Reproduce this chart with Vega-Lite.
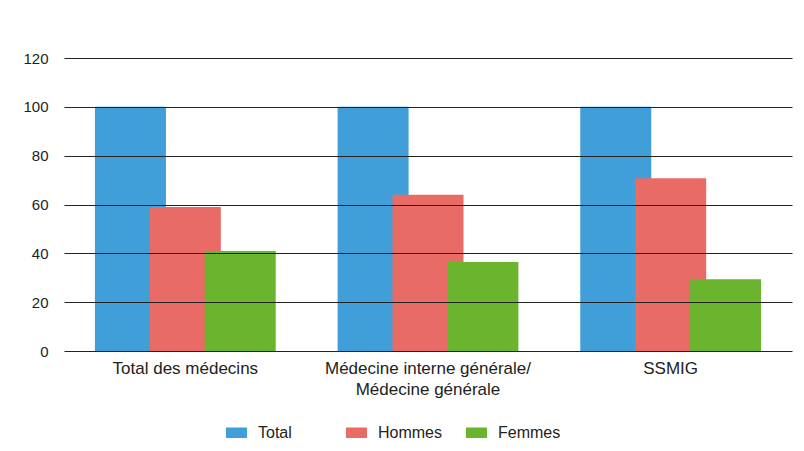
{
  "$schema": "https://vega.github.io/schema/vega-lite/v6.json",
  "autosize": {"type": "none"},
  "width": 728,
  "height": 293,
  "padding": {"left": 64, "top": 58, "right": 12, "bottom": 100},
  "background": "white",
  "data": {
    "values": [
      {"cat": "Total des médecins", "serie": "Total", "val": 100},
      {"cat": "Total des médecins", "serie": "Hommes", "val": 59},
      {"cat": "Total des médecins", "serie": "Femmes", "val": 41},
      {"cat": "Médecine interne générale/Médecine générale", "serie": "Total", "val": 100},
      {"cat": "Médecine interne générale/Médecine générale", "serie": "Hommes", "val": 64},
      {"cat": "Médecine interne générale/Médecine générale", "serie": "Femmes", "val": 36.5},
      {"cat": "SSMIG", "serie": "Total", "val": 100},
      {"cat": "SSMIG", "serie": "Hommes", "val": 70.7},
      {"cat": "SSMIG", "serie": "Femmes", "val": 29.4}
    ]
  },
  "mark": {"type": "bar", "width": 71},
  "encoding": {
    "x": {
      "field": "cat",
      "type": "nominal",
      "sort": null,
      "scale": {"paddingInner": 0, "paddingOuter": 0},
      "axis": {
        "title": null,
        "domain": false,
        "ticks": false,
        "labelAngle": 0,
        "labelPadding": 9,
        "labelFontSize": 17,
        "labelFont": "Liberation Sans",
        "labelColor": "#222",
        "labelLineHeight": 21,
        "labelLimit": 400,
        "labelExpr": "indexof(datum.label, '/') > 0 ? ['Médecine interne générale/', 'Médecine générale'] : datum.label"
      }
    },
    "xOffset": {
      "field": "serie",
      "type": "nominal",
      "sort": ["Total", "Hommes", "Femmes"],
      "scale": {"paddingInner": 0, "paddingOuter": 0.71}
    },
    "y": {
      "field": "val",
      "type": "quantitative",
      "stack": null,
      "scale": {"domain": [0, 120], "nice": false},
      "axis": {
        "title": null,
        "values": [0, 20, 40, 60, 80, 100, 120],
        "domain": false,
        "ticks": false,
        "grid": true,
        "gridColor": "#222",
        "gridWidth": 1.2,
        "zindex": 1,
        "labelPadding": 16,
        "labelFontSize": 15,
        "labelFont": "Liberation Sans",
        "labelColor": "#222"
      }
    },
    "color": {
      "field": "serie",
      "type": "nominal",
      "sort": ["Total", "Hommes", "Femmes"],
      "scale": {
        "domain": ["Total", "Hommes", "Femmes"],
        "range": ["#409FD9", "#E96B65", "#6AB42E"]
      },
      "legend": {
        "title": null,
        "orient": "none",
        "direction": "horizontal",
        "legendX": 162,
        "legendY": 364,
        "symbolType": "M-1,-0.5L1,-0.5L1,0.5L-1,0.5Z",
        "symbolSize": 441,
        "symbolStrokeWidth": 0,
        "symbolOpacity": 1,
        "labelOffset": 11,
        "labelFontSize": 16,
        "labelFont": "Liberation Sans",
        "labelColor": "#222",
        "gridAlign": "all",
        "columnPadding": 23,
        "padding": 0
      }
    }
  },
  "config": {"view": {"stroke": null}}
}
